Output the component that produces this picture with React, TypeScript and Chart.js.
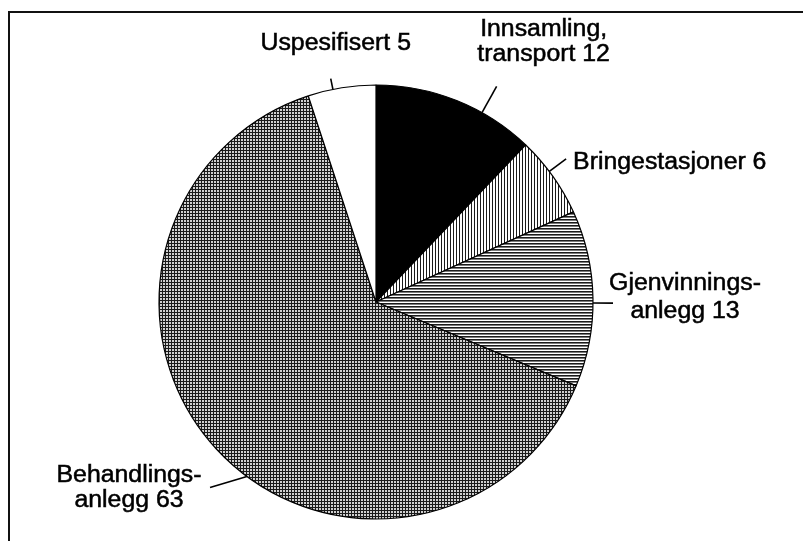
import { useEffect, useRef } from "react";
import { Chart, registerables } from "chart.js";

Chart.register(...registerables);

const categories = [
  "Innsamling, transport",
  "Bringestasjoner",
  "Gjenvinningsanlegg",
  "Behandlingsanlegg",
  "Uspesifisert",
];
const values = [12, 6, 13, 63, 5];
const labelLines = [
  ["Innsamling,", "transport "],
  ["Bringestasjoner "],
  ["Gjenvinnings-", "anlegg "],
  ["Behandlings-", "anlegg "],
  ["Uspesifisert "],
];

// label layout: leader start fraction inside slice, leader angle shift (deg), leader length,
// text offset from leader end (dx, dy to first baseline), alignment, line height
const placement = [
  { frac: 0.67, dAng: 0, len: 30, dx: 47, dy: -50, align: "center", lh: 25 },
  { frac: 0.43, dAng: 0, len: 21, dx: 7, dy: 10, align: "left", lh: 26 },
  { frac: 0.525, dAng: 0, len: 20, dx: 72, dy: -13, align: "center", lh: 28 },
  { frac: 0.453, dAng: 5.3, len: 32, dx: -81, dy: -6, align: "center", lh: 25 },
  { frac: 0.37, dAng: 0, len: 11, dx: 5, dy: -29, align: "center", lh: 26 },
];

function makePattern(kind: string): CanvasPattern | string {
  const c = document.createElement("canvas");
  c.width = 3;
  c.height = 3;
  const g = c.getContext("2d")!;
  g.fillStyle = "#ffffff";
  g.fillRect(0, 0, 3, 3);
  g.fillStyle = "#1a1a1a";
  if (kind === "grid") {
    g.fillRect(0, 0, 3, 1);
    g.fillRect(0, 0, 1, 3);
    g.fillStyle = "#d0d0d0";
    g.fillRect(1, 1, 2, 2);
  } else if (kind === "h") {
    g.fillRect(0, 0, 3, 1);
    g.fillStyle = "#7a7a7a";
    g.fillRect(0, 1, 3, 1);
  } else if (kind === "v") {
    g.fillRect(0, 0, 1, 3);
  }
  const p = g.createPattern(c, "repeat");
  return p || "#888";
}

const FONT_SIZE = 23;
const SCALE_X = 1.08;

const labelPlugin = {
  id: "pieLabels",
  beforeDraw(chart: any) {
    const ctx = chart.ctx as CanvasRenderingContext2D;
    ctx.save();
    ctx.fillStyle = "#ffffff";
    ctx.fillRect(0, 0, chart.width, chart.height);
    ctx.strokeStyle = "#111";
    ctx.lineWidth = 2;
    ctx.beginPath();
    ctx.moveTo(9, 541);
    ctx.lineTo(9, 12);
    ctx.lineTo(803, 12);
    ctx.stroke();
    ctx.restore();
  },
  afterDatasetsDraw(chart: any) {
    const ctx = chart.ctx as CanvasRenderingContext2D;
    const meta = chart.getDatasetMeta(0);
    ctx.save();
    meta.data.forEach((arc: any, i: number) => {
      const p = placement[i];
      const { x, y, startAngle, endAngle, outerRadius } = arc.getProps(
        ["x", "y", "startAngle", "endAngle", "outerRadius"],
        true
      );
      const a0 = startAngle + p.frac * (endAngle - startAngle);
      const a1 = a0 + (p.dAng * Math.PI) / 180;
      const sx = x + Math.cos(a0) * outerRadius;
      const sy = y + Math.sin(a0) * outerRadius;
      const ex = x + Math.cos(a1) * (outerRadius + p.len);
      const ey = y + Math.sin(a1) * (outerRadius + p.len);
      ctx.strokeStyle = "#000";
      ctx.lineWidth = 1.6;
      ctx.beginPath();
      ctx.moveTo(sx, sy);
      ctx.lineTo(ex, ey);
      ctx.stroke();

      const lines = labelLines[i].slice();
      lines[lines.length - 1] = lines[lines.length - 1] + String(values[i]);
      ctx.fillStyle = "#000";
      ctx.strokeStyle = "#000";
      ctx.lineWidth = 0.5;
      ctx.font = `${FONT_SIZE}px "Liberation Sans", Arial, sans-serif`;
      ctx.textBaseline = "alphabetic";
      ctx.textAlign = p.align as CanvasTextAlign;
      lines.forEach((t, k) => {
        ctx.save();
        ctx.translate(ex + p.dx, ey + p.dy + k * p.lh);
        ctx.scale(SCALE_X, 1);
        ctx.fillText(t, 0, 0);
        ctx.strokeText(t, 0, 0);
        ctx.restore();
      });
    });
    ctx.restore();
  },
};

export default function App() {
  const ref = useRef<HTMLCanvasElement | null>(null);
  useEffect(() => {
    if (!ref.current) return;
    const fills = [
      "#000000",
      makePattern("v"),
      makePattern("h"),
      makePattern("grid"),
      "#ffffff",
    ];
    const chart = new Chart(ref.current, {
      type: "pie",
      data: {
        labels: categories,
        datasets: [
          {
            data: values,
            backgroundColor: fills as any,
            borderColor: "#000000",
            borderWidth: 1.2,
          },
        ],
      },
      options: {
        responsive: false,
        animation: false,
        radius: 217,
        rotation: 0,
        layout: { padding: { left: 0, right: 53, top: 63, bottom: 0 } },
        plugins: {
          legend: { display: false },
          tooltip: { enabled: false },
          title: { display: false },
        },
      } as any,
      plugins: [labelPlugin],
    });
    return () => chart.destroy();
  }, []);
  return (
    <div style={{ position: "fixed", left: 0, top: 0, width: 805, height: 541, background: "#fff" }}>
      <canvas ref={ref} width={805} height={541} style={{ display: "block" }} />
    </div>
  );
}
